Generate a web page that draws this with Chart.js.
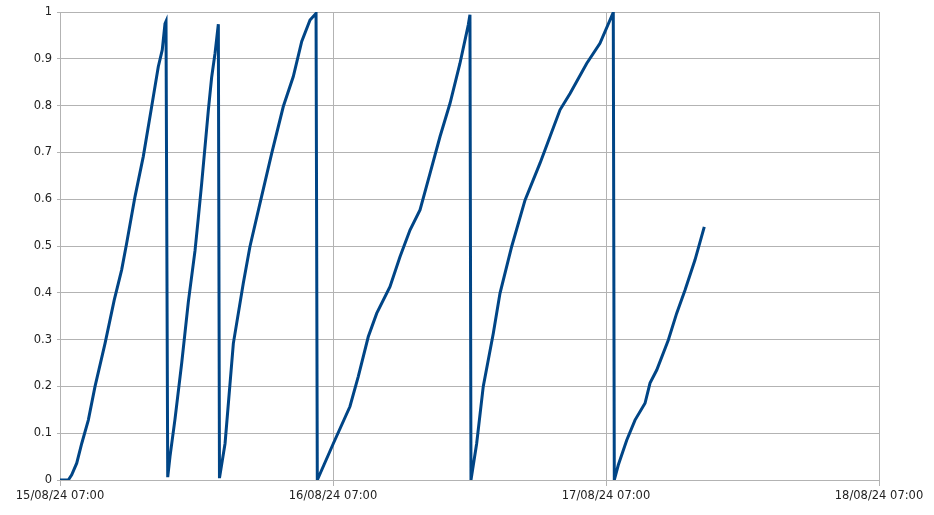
<!DOCTYPE html>
<html>
<head>
<meta charset="utf-8">
<script src="https://cdn.jsdelivr.net/npm/chart.js@4/dist/chart.umd.min.js"></script>
<style>
  html, body { margin: 0; padding: 0; background: #ffffff; }
  #wrap { width: 934px; height: 515px; }
</style>
</head>
<body>
<div id="wrap"><canvas id="c" width="934" height="515"></canvas></div>
<script>
// Hours elapsed since 15/08/24 07:00
const hours = [
  0, 0.73, 1.03, 1.47, 1.91, 2.49, 3.08, 3.96, 4.77, 5.42, 5.86, 6.59, 7.32, 8.06, 8.64, 8.99, 9.23, 9.32,
  9.47, 9.67, 10.11, 10.70, 11.28, 11.87, 12.16, 12.46, 13.04, 13.33, 13.63, 13.92,
  14.02, 14.51, 15.24, 16.11, 16.70, 17.58, 18.61, 19.63, 20.51, 21.25, 21.98, 22.51,
  22.62, 24.03, 25.49, 26.22, 27.10, 27.84, 29.01, 29.89, 30.77, 31.65, 32.53, 33.41, 34.29, 35.16, 35.89, 36.04,
  36.13, 36.63, 37.21, 38.09, 38.68, 39.71, 40.88, 42.20, 43.08, 43.96, 44.84, 46.30, 47.47, 48.64,
  48.73, 49.08, 49.82, 50.55, 51.43, 51.87, 52.46, 53.48, 54.21, 54.95, 55.82, 56.64
];
const values = [
  0, 0, 0.011, 0.036, 0.078, 0.128, 0.2, 0.292, 0.385, 0.449, 0.506, 0.605, 0.691, 0.798, 0.883, 0.919, 0.975, 0.98,
  0.006, 0.05, 0.13, 0.25, 0.38, 0.49, 0.56, 0.635, 0.79, 0.86, 0.912, 0.974,
  0.004, 0.078, 0.292, 0.42, 0.499, 0.591, 0.698, 0.798, 0.862, 0.937, 0.983, 0.997,
  0, 0.078, 0.157, 0.221, 0.306, 0.356, 0.413, 0.477, 0.534, 0.577, 0.655, 0.734, 0.805, 0.89, 0.972, 0.994,
  0, 0.078, 0.2, 0.313, 0.399, 0.499, 0.598, 0.677, 0.734, 0.791, 0.826, 0.89, 0.933, 0.999,
  0, 0.032, 0.085, 0.128, 0.164, 0.207, 0.235, 0.299, 0.356, 0.406, 0.47, 0.541
];
const xTickLabels = ["15/08/24 07:00", "16/08/24 07:00", "17/08/24 07:00", "18/08/24 07:00"];

const points = hours.map((h, i) => ({ x: h, y: values[i] }));
const gridColor = '#b3b3b3';
const font = { family: 'DejaVu Sans', size: 11.5 };

new Chart(document.getElementById('c'), {
  type: 'line',
  data: {
    datasets: [{
      data: points,
      borderColor: '#004586',
      borderWidth: 3,
      pointRadius: 0,
      tension: 0,
      fill: false
    }]
  },
  options: {
    responsive: false,
    animation: false,
    devicePixelRatio: 1,
    layout: { padding: { top: 12, right: 55, left: 0, bottom: 0 } },
    plugins: { legend: { display: false }, tooltip: { enabled: false } },
    scales: {
      x: {
        type: 'linear',
        min: 0, max: 72,
        ticks: {
          stepSize: 24,
          color: '#222222',
          font: font,
          padding: 3,
          maxRotation: 0,
          autoSkip: false,
          callback: (v) => xTickLabels[Math.round(v / 24)]
        },
        grid: { color: gridColor, lineWidth: 1, tickLength: 6, tickColor: gridColor },
        border: { color: gridColor, width: 1 },
        afterFit: (s) => { s.height = 35; }
      },
      y: {
        min: 0, max: 1,
        ticks: {
          stepSize: 0.1,
          color: '#222222',
          font: font,
          padding: 5,
          callback: (v) => String(Math.round(v * 10) / 10)
        },
        grid: { color: gridColor, lineWidth: 1, tickLength: 3, tickColor: gridColor },
        border: { color: gridColor, width: 1 },
        afterFit: (s) => { s.width = 60; }
      }
    }
  }
});
</script>
</body>
</html>
